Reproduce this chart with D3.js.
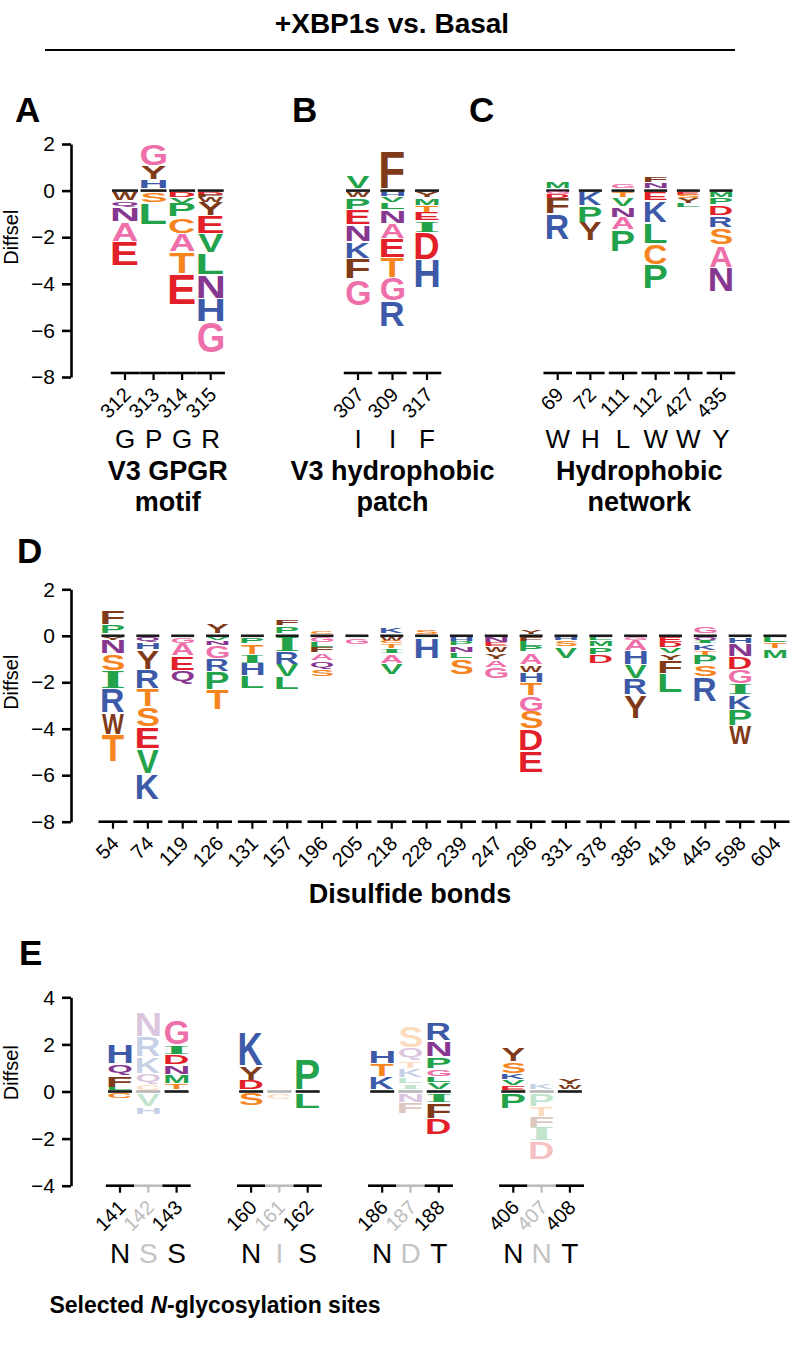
<!DOCTYPE html>
<html><head><meta charset="utf-8">
<script src="https://cdn.jsdelivr.net/npm/d3@7"></script>
<style>body{margin:0;background:#fff}</style>
</head><body><svg id="c" width="800" height="1362"></svg>
<script>
// ---------------- DATA ----------------
const sitesA = ["312","313","314","315"];
const wtA = ["G","P","G","R"];
const logoA = [
  [["W",-0.37],["Q",-0.3],["N",-0.6],["A",-0.86],["E",-1.04]],
  [["H",0.4],["Y",0.6],["G",0.95],["S",-0.45],["L",-0.95]],
  [["D",-0.2],["V",-0.28],["P",-0.6],["C",-0.7],["A",-0.78],["T",-0.95],["E",-1.3]],
  [["D",-0.1],["F",-0.12],["W",-0.2],["Y",-0.6],["E",-0.78],["V",-0.8],["L",-0.95],["N",-1.0],["H",-1.0],["G",-1.35]]
];
const sitesB = ["307","309","317"];
const wtB = ["I","I","F"];
const logoB = [
  [["V",0.55],["W",-0.25],["P",-0.5],["E",-0.65],["N",-0.72],["K",-0.72],["F",-0.9],["G",-1.15]],
  [["F",1.62],["H",-0.15],["V",-0.28],["L",-0.33],["N",-0.58],["A",-0.65],["E",-0.8],["T",-0.9],["G",-1.0],["R",-1.1]],
  [["Y",-0.21],["M",-0.36],["T",-0.31],["E",-0.36],["I",-0.5],["D",-1.14],["H",-1.24]]
];
const sitesC = ["69","72","111","112","427","435"];
const wtC = ["W","H","L","W","W","Y"];
const logoC = [
  [["M",0.33],["G",-0.1],["D",-0.15],["F",-0.7],["R",-1.1]],
  [["K",-0.6],["P",-0.7],["Y",-0.8]],
  [["G",0.22],["T",-0.25],["V",-0.38],["N",-0.45],["A",-0.55],["P",-0.95]],
  [["N",0.28],["F",0.26],["E",-0.37],["K",-0.96],["L",-0.86],["C",-0.93],["P",-1.03]],
  [["E",-0.12],["S",-0.15],["Y",-0.2],["L",-0.18]],
  [["M",-0.21],["P",-0.33],["D",-0.46],["R",-0.52],["S",-0.74],["A",-0.97],["N",-1.06]]
];
const sitesD = ["54","74","119","126","131","157","196","205","218","228","239","247","296","331","378","385","418","445","598","604"];
const logoD = [
  [["P",0.4],["F",0.64],["Y",-0.12],["N",-0.59],["S",-0.74],["I",-0.77],["R",-1.04],["W",-0.93],["T",-1.17]],
  [["Q",-0.24],["H",-0.31],["Y",-0.82],["R",-0.83],["T",-0.79],["S",-0.86],["E",-0.96],["V",-1.04],["K",-1.14]],
  [["G",-0.27],["A",-0.53],["E",-0.62],["Q",-0.62]],
  [["Y",0.45],["V",-0.13],["N",-0.24],["G",-0.54],["R",-0.57],["P",-0.76],["T",-0.89]],
  [["P",-0.27],["T",-0.47],["I",-0.39],["H",-0.53],["L",-0.54]],
  [["P",0.36],["F",0.29],["I",-0.63],["R",-0.54],["V",-0.53],["L",-0.57]],
  [["C",0.08],["G",-0.2],["L",-0.25],["F",-0.2],["A",-0.35],["Q",-0.35],["S",-0.35]],
  [["G",-0.3]],
  [["K",0.3],["W",-0.15],["C",-0.1],["T",-0.22],["I",-0.25],["A",-0.4],["V",-0.5]],
  [["S",0.15],["H",-0.9]],
  [["H",-0.15],["P",-0.22],["N",-0.28],["L",-0.25],["S",-0.7]],
  [["N",-0.2],["E",-0.15],["W",-0.3],["Y",-0.3],["A",-0.35],["G",-0.5]],
  [["Y",0.15],["F",-0.16],["L",-0.19],["P",-0.29],["A",-0.52],["W",-0.34],["H",-0.46],["T",-0.54],["G",-0.69],["S",-0.77],["D",-0.92],["E",-0.96]],
  [["H",-0.12],["S",-0.3],["V",-0.5]],
  [["L",-0.1],["M",-0.3],["P",-0.35],["D",-0.38]],
  [["G",-0.1],["A",-0.48],["H",-0.6],["V",-0.6],["R",-0.7],["Y",-1.0]],
  [["E",-0.2],["D",-0.2],["V",-0.3],["Y",-0.3],["F",-0.55],["L",-0.85]],
  [["G",0.35],["Q",-0.13],["I",-0.13],["K",-0.3],["T",-0.22],["P",-0.42],["S",-0.5],["R",-1.05]],
  [["H",-0.27],["N",-0.55],["D",-0.57],["G",-0.6],["I",-0.48],["K",-0.63],["P",-0.7],["W",-0.8]],
  [["L",-0.25],["T",-0.25],["M",-0.4]]
];
const groupsE = [["141","142","143"],["160","161","162"],["186","187","188"],["406","407","408"]];
const wtE = [["N","S","S"],["N","I","S"],["N","D","T"],["N","N","T"]];
const fadedE = [false, true, false];
const logoE = [
  [["L",0.1],["F",0.5],["Q",0.5],["H",0.8],["C",-0.2]],
  [["C",0.2],["Q",0.5],["K",0.71],["R",0.85],["N",1.06],["V",-0.57],["H",-0.35]],
  [["T",0.28],["M",0.37],["N",0.4],["D",0.45],["I",0.4],["G",1.06]],
  [["D",0.41],["Y",0.6],["K",1.46],["S",-0.55]],
  [["C",-0.3]],
  [["P",1.35],["L",-0.65]],
  [["K",0.55],["T",0.57],["H",0.57]],
  [["I",0.25],["L",0.25],["K",0.4],["T",0.35],["Q",0.55],["S",0.95],["N",-0.4],["F",-0.5]],
  [["V",0.31],["L",0.26],["G",0.31],["P",0.52],["N",0.67],["R",0.75],["I",-0.4],["F",-0.68],["D",-0.7]],
  [["E",0.17],["V",0.27],["K",0.26],["S",0.5],["Y",0.57],["P",-0.65]],
  [["K",0.3],["P",-0.57],["T",-0.43],["F",-0.47],["I",-0.57],["D",-0.78]],
  [["W",0.22],["Y",0.29]]
];
const ticksAD = [2,0,-2,-4,-6,-8];
const ticksE = [4,2,0,-2,-4];

// ---------------- STYLE ----------------
const PINK="#ee6fa9", BROWN="#7f3a19", GREEN="#22a24b", BLUE="#3d5aa8", RED="#e31f2a", PURPLE="#86378f", ORANGE="#f6851f";
const aaColor = {G:PINK,A:PINK,F:BROWN,W:BROWN,Y:BROWN,L:GREEN,V:GREEN,P:GREEN,M:GREEN,I:GREEN,
  H:BLUE,K:BLUE,R:BLUE,D:RED,E:RED,N:PURPLE,Q:PURPLE,S:ORANGE,T:ORANGE,C:ORANGE};
const SANS = '"Liberation Sans", Arial, Helvetica, sans-serif';

const svg = d3.select("#c");
const cv = document.createElement("canvas");
const ctx = cv.getContext("2d");
const boxCache = {};
function fontFor(ch){ return ch === "I" ? '"Liberation Serif", serif' : '"Liberation Sans", Arial, sans-serif'; }
function glyphBox(ch){
  if (boxCache[ch]) return boxCache[ch];
  ctx.font = "bold 100px " + fontFor(ch);
  const m = ctx.measureText(ch);
  const b = {l: m.actualBoundingBoxLeft, r: m.actualBoundingBoxRight, a: m.actualBoundingBoxAscent, d: m.actualBoundingBoxDescent};
  boxCache[ch] = b; return b;
}
function drawLetter(g, ch, x0, y0, w, h, op){
  if (h < 0.25) return;
  const pad = h > 5 ? 0.7 : 0;
  const hh = h - 2*pad;
  const b = glyphBox(ch);
  g.append("text")
    .attr("font-family", fontFor(ch)).attr("font-weight","bold").attr("font-size",100)
    .attr("fill", aaColor[ch]).attr("fill-opacity", op)
    .attr("transform", `translate(${x0},${y0+pad}) scale(${w/(b.l+b.r)},${hh/(b.a+b.d)}) translate(${b.l},${b.a})`)
    .text(ch);
}
function drawColumn(g, col, cx, y, w, faded){
  const op = faded ? 0.3 : 1;
  const y0 = y(0);
  g.append("rect").attr("x", cx - w/2 - 0.5).attr("y", y0 - 1.3).attr("width", w + 1).attr("height", 2.6)
    .attr("fill", faded ? "#b5b5b5" : "#1a1a1a");
  let up = y0 - 1.6, down = y0 + 1.6;
  col.forEach(([aa, v]) => {
    const h = y(0) - y(Math.abs(v));
    if (v > 0) { drawLetter(g, aa, cx - w/2, up - h, w, h, op); up -= h; }
    else { drawLetter(g, aa, cx - w/2, down, w, h, op); down += h; }
  });
}
function yAxis(y, ticks, x){
  const g = svg.append("g").attr("transform", `translate(${x},0)`)
    .call(d3.axisLeft(y).tickValues(ticks).tickSize(9).tickSizeOuter(0).tickPadding(7));
  g.attr("font-size", 21).attr("font-family", SANS);
  g.select(".domain").attr("stroke", "#000").attr("stroke-width", 2.6);
  g.selectAll(".tick line").attr("stroke", "#000").attr("stroke-width", 2.6);
  g.selectAll(".tick text").attr("fill", "#000");
  const r = y.range();
  svg.append("text").attr("transform", `translate(18,${r[1] + 0.4*(r[0]-r[1])}) rotate(-90)`)
    .attr("text-anchor","middle").attr("font-family",SANS).attr("font-size",20).text("Diffsel");
}
function xSegments(g, xs, labels, axisY, segW, colors){
  xs.forEach((x, i) => {
    const c = colors ? colors[i] : "#000";
    g.append("line").attr("x1", x - segW/2).attr("x2", x + segW/2).attr("y1", axisY).attr("y2", axisY)
      .attr("stroke", c).attr("stroke-width", 2.6);
    g.append("line").attr("x1", x).attr("x2", x).attr("y1", axisY).attr("y2", axisY + 7)
      .attr("stroke", c).attr("stroke-width", 2.2);
    g.append("text").attr("transform", `translate(${x + 7},${axisY + 23}) rotate(-45)`)
      .attr("text-anchor","end").attr("font-family",SANS).attr("font-size",20).attr("fill", c)
      .text(labels[i]);
  });
}
function bold(txt, x, y, size, anchor){
  return svg.append("text").attr("x",x).attr("y",y).attr("font-family",SANS).attr("font-weight","bold")
    .attr("font-size",size).attr("text-anchor",anchor||"middle").text(txt);
}

// ---------------- TITLE ----------------
bold("+XBP1s vs. Basal", 392, 33, 28);
svg.append("line").attr("x1",45).attr("x2",735).attr("y1",50).attr("y2",50).attr("stroke","#000").attr("stroke-width",2);

// ---------------- PANELS A-C ----------------
const yA = d3.scaleLinear().domain([-8,2]).range([377,144]);
yAxis(yA, ticksAD, 71);
const axisYA = yA(-8) - 4;
[
  {label:"A", lx:15, sites:sitesA, wt:wtA, logo:logoA, range:[125,210.7], w:25, title:["V3 GPGR","motif"]},
  {label:"B", lx:292, sites:sitesB, wt:wtB, logo:logoB, range:[358,427], w:23, title:["V3 hydrophobic","patch"]},
  {label:"C", lx:469, sites:sitesC, wt:wtC, logo:logoC, range:[557.7,721], w:22, title:["Hydrophobic","network"]}
].forEach(p => {
  const x = d3.scalePoint().domain(p.sites).range(p.range);
  const g = svg.append("g");
  p.logo.forEach((col, i) => drawColumn(g, col, x(p.sites[i]), yA, p.w, false));
  const xs = p.sites.map(s => x(s));
  const step = xs.length > 1 ? xs[1]-xs[0] : 28;
  xSegments(g, xs, p.sites, axisYA, Math.min(step, 28.5));
  p.wt.forEach((c, i) => g.append("text").attr("x", xs[i]).attr("y", 448).attr("text-anchor","middle")
    .attr("font-family",SANS).attr("font-size",26).text(c));
  const cx = (p.range[0] + p.range[1]) / 2;
  bold(p.title[0], cx, 480, 27);
  bold(p.title[1], cx, 511, 27);
  bold(p.label, p.lx, 122, 35, "start");
});

// ---------------- PANEL D ----------------
const yD = d3.scaleLinear().domain([-8,2]).range([821.7,589.3]);
yAxis(yD, ticksAD, 71);
bold("D", 17, 563, 35, "start");
const xD = d3.scalePoint().domain(sitesD).range([113,775]);
const gD = svg.append("g");
logoD.forEach((col, i) => drawColumn(gD, col, xD(sitesD[i]), yD, 22, false));
xSegments(gD, sitesD.map(s => xD(s)), sitesD, yD(-8), 29);
bold("Disulfide bonds", 410, 903, 27);

// ---------------- PANEL E ----------------
const yE = d3.scaleLinear().domain([-4,4]).range([1185.7,997.3]);
yAxis(yE, ticksE, 71);
bold("E", 19, 965, 35, "start");
const gx = d3.scalePoint().domain(d3.range(groupsE.length)).range([120,513.3]);
const inner = d3.scalePoint().domain([0,1,2]).range([0,56.6]);
const gE = svg.append("g");
groupsE.forEach((grp, gi) => {
  const xs = grp.map((s, j) => gx(gi) + inner(j));
  const cols = grp.map((s, j) => fadedE[j] ? "#bdbdbd" : "#000");
  grp.forEach((s, j) => drawColumn(gE, logoE[gi*3 + j], xs[j], yE, 23, fadedE[j]));
  xSegments(gE, xs, grp, yE(-4), 28.3, cols);
  wtE[gi].forEach((c, j) => gE.append("text").attr("x", xs[j]).attr("y", 1263).attr("text-anchor","middle")
    .attr("font-family",SANS).attr("font-size",28).attr("fill", fadedE[j] ? "#c4c4c4" : "#000").text(c));
});
const te = svg.append("text").attr("x",215).attr("y",1313).attr("font-family",SANS).attr("font-weight","bold")
  .attr("font-size",23).attr("text-anchor","middle");
te.append("tspan").text("Selected ");
te.append("tspan").attr("font-style","italic").text("N");
te.append("tspan").text("-glycosylation sites");
</script>
</body></html>
